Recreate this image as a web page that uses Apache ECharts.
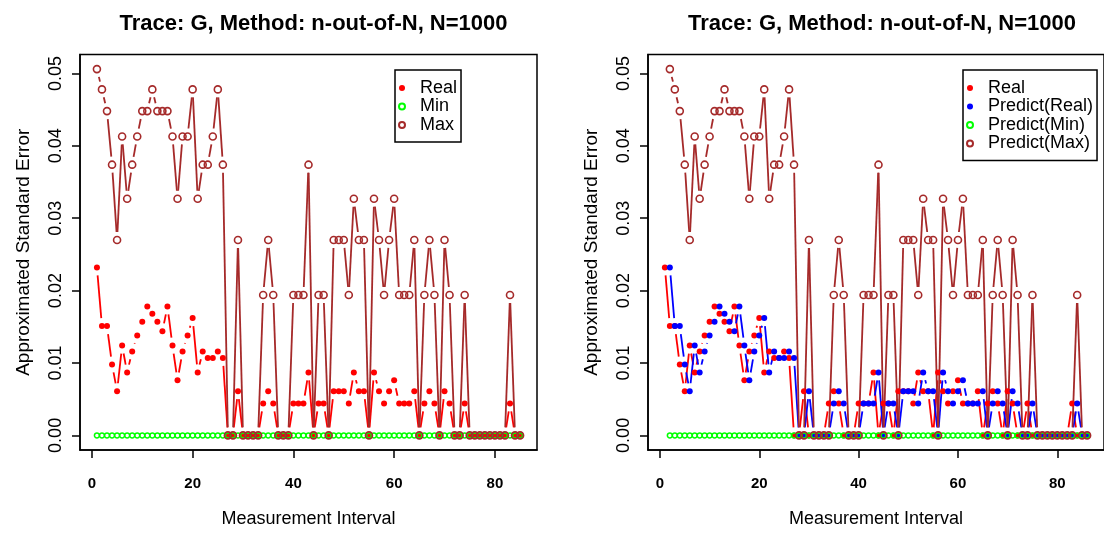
<!DOCTYPE html>
<html>
<head>
<meta charset="utf-8">
<script src="https://cdn.jsdelivr.net/npm/echarts@6/dist/echarts.min.js"></script>
<style>
  html, body { margin: 0; padding: 0; background: #fff; }
  #chart { width: 1104px; height: 533px; }
</style>
</head>
<body>
<div id="chart"></div>
<script>
// Measurement intervals (x positions of the observations)
const interval = [
  1, 2, 3, 4, 5, 6, 7, 8, 9, 10, 11, 12, 13, 14, 15, 16, 17, 18, 19, 20,
  21, 22, 23, 24, 25, 26, 27, 28, 29, 30, 31, 32, 33, 34, 35, 36, 37, 38, 39, 40,
  41, 42, 43, 44, 45, 46, 47, 48, 49, 50, 51, 52, 53, 54, 55, 56, 57, 58, 59, 60,
  61, 62, 63, 64, 65, 66, 67, 68, 69, 70, 71, 72, 73, 74, 75, 76, 77, 78, 79, 80,
  81, 82, 83, 84, 85
];
// predictions are issued one interval ahead
const predictInterval = [
  2, 3, 4, 5, 6, 7, 8, 9, 10, 11, 12, 13, 14, 15, 16, 17, 18, 19, 20, 21,
  22, 23, 24, 25, 26, 27, 28, 29, 30, 31, 32, 33, 34, 35, 36, 37, 38, 39, 40, 41,
  42, 43, 44, 45, 46, 47, 48, 49, 50, 51, 52, 53, 54, 55, 56, 57, 58, 59, 60, 61,
  62, 63, 64, 65, 66, 67, 68, 69, 70, 71, 72, 73, 74, 75, 76, 77, 78, 79, 80, 81,
  82, 83, 84, 85, 86
];

// approximated standard error per interval
const realSE = [
  0.0232, 0.0151, 0.0151, 0.0098, 0.0061, 0.0124, 0.0087, 0.0116, 0.0138, 0.0157,
  0.0178, 0.0168, 0.0157, 0.0144, 0.0178, 0.0124, 0.0076, 0.0116, 0.0138, 0.0162,
  0.0087, 0.0116, 0.0107, 0.0107, 0.0116, 0.0107, 0, 0, 0.0061, 0,
  0, 0, 0, 0.0044, 0.0061, 0.0044, 0, 0, 0, 0.0044,
  0.0044, 0.0044, 0.0087, 0, 0.0044, 0.0044, 0, 0.0061, 0.0061, 0.0061,
  0.0044, 0.0087, 0.0061, 0.0061, 0, 0.0087, 0.0061, 0.0044, 0.0061, 0.0076,
  0.0044, 0.0044, 0.0044, 0.0061, 0, 0.0044, 0.0061, 0.0044, 0, 0.0061,
  0.0044, 0, 0, 0.0044, 0, 0, 0, 0, 0, 0,
  0, 0, 0.0044, 0, 0
];
const minSE = [
  0, 0, 0, 0, 0, 0, 0, 0, 0, 0, 0, 0, 0, 0, 0, 0, 0, 0, 0, 0,
  0, 0, 0, 0, 0, 0, 0, 0, 0, 0, 0, 0, 0, 0, 0, 0, 0, 0, 0, 0,
  0, 0, 0, 0, 0, 0, 0, 0, 0, 0, 0, 0, 0, 0, 0, 0, 0, 0, 0, 0,
  0, 0, 0, 0, 0, 0, 0, 0, 0, 0, 0, 0, 0, 0, 0, 0, 0, 0, 0, 0,
  0, 0, 0, 0, 0
];
const maxSE = [
  0.0506, 0.0478, 0.0448, 0.0374, 0.0270, 0.0413, 0.0327, 0.0374, 0.0413, 0.0448,
  0.0448, 0.0478, 0.0448, 0.0448, 0.0448, 0.0413, 0.0327, 0.0413, 0.0413, 0.0478,
  0.0327, 0.0374, 0.0374, 0.0413, 0.0478, 0.0374, 0, 0, 0.0270, 0,
  0, 0, 0, 0.0194, 0.0270, 0.0194, 0, 0, 0, 0.0194,
  0.0194, 0.0194, 0.0374, 0, 0.0194, 0.0194, 0, 0.0270, 0.0270, 0.0270,
  0.0194, 0.0327, 0.0270, 0.0270, 0, 0.0327, 0.0270, 0.0194, 0.0270, 0.0327,
  0.0194, 0.0194, 0.0194, 0.0270, 0, 0.0194, 0.0270, 0.0194, 0, 0.0270,
  0.0194, 0, 0, 0.0194, 0, 0, 0, 0, 0, 0,
  0, 0, 0.0194, 0, 0
];

// one-step-ahead predictions (at predictInterval)
const predictRealSE = [
  0.0232, 0.0151, 0.0151, 0.0098, 0.0061, 0.0124, 0.0087, 0.0116, 0.0138, 0.0157,
  0.0178, 0.0168, 0.0157, 0.0144, 0.0178, 0.0124, 0.0076, 0.0116, 0.0138, 0.0162,
  0.0087, 0.0116, 0.0107, 0.0107, 0.0116, 0.0107, 0, 0, 0.0061, 0,
  0, 0, 0, 0.0044, 0.0061, 0.0044, 0, 0, 0, 0.0044,
  0.0044, 0.0044, 0.0087, 0, 0.0044, 0.0044, 0, 0.0061, 0.0061, 0.0061,
  0.0044, 0.0087, 0.0061, 0.0061, 0, 0.0087, 0.0061, 0.0044, 0.0061, 0.0076,
  0.0044, 0.0044, 0.0044, 0.0061, 0, 0.0044, 0.0061, 0.0044, 0, 0.0061,
  0.0044, 0, 0, 0.0044, 0, 0, 0, 0, 0, 0,
  0, 0, 0.0044, 0, 0
];
const predictMinSE = [
  0, 0, 0, 0, 0, 0, 0, 0, 0, 0, 0, 0, 0, 0, 0, 0, 0, 0, 0, 0,
  0, 0, 0, 0, 0, 0, 0, 0, 0, 0, 0, 0, 0, 0, 0, 0, 0, 0, 0, 0,
  0, 0, 0, 0, 0, 0, 0, 0, 0, 0, 0, 0, 0, 0, 0, 0, 0, 0, 0, 0,
  0, 0, 0, 0, 0, 0, 0, 0, 0, 0, 0, 0, 0, 0, 0, 0, 0, 0, 0, 0,
  0, 0, 0, 0, 0
];
const predictMaxSE = [
  0.0506, 0.0478, 0.0448, 0.0374, 0.0270, 0.0413, 0.0327, 0.0374, 0.0413, 0.0448,
  0.0448, 0.0478, 0.0448, 0.0448, 0.0448, 0.0413, 0.0327, 0.0413, 0.0413, 0.0478,
  0.0327, 0.0374, 0.0374, 0.0413, 0.0478, 0.0374, 0, 0, 0.0270, 0,
  0, 0, 0, 0.0194, 0.0270, 0.0194, 0, 0, 0, 0.0194,
  0.0194, 0.0194, 0.0374, 0, 0.0194, 0.0194, 0, 0.0270, 0.0270, 0.0270,
  0.0194, 0.0327, 0.0270, 0.0270, 0, 0.0327, 0.0270, 0.0194, 0.0270, 0.0327,
  0.0194, 0.0194, 0.0194, 0.0270, 0, 0.0194, 0.0270, 0.0194, 0, 0.0270,
  0.0194, 0, 0, 0.0194, 0, 0, 0, 0, 0, 0,
  0, 0, 0.0194, 0, 0
];

const xTicks = [0, 20, 40, 60, 80];
const yTicks = [0, 0.01, 0.02, 0.03, 0.04, 0.05];
const panelTitle = 'Trace: G, Method: n-out-of-N, N=1000';

const FONT = '"Liberation Sans", Arial, Helvetica, sans-serif';
const RED = '#FF0000', GREEN = '#00FF00', BROWN = '#A52A2A', BLUE = '#0000FF';
const GAP = 8;        // gap left around each point, like plot type "b"
const LINE_W = 1.8;

const chart = echarts.init(document.getElementById('chart'), null, { renderer: 'canvas' });

function toPoints(xs, ys) {
  return xs.map((x, k) => [x, ys[k]]);
}
function toSegments(xs, ys) {
  const out = [];
  for (let k = 0; k < xs.length - 1; k++) out.push([xs[k], ys[k], xs[k + 1], ys[k + 1]]);
  return out;
}

// connecting segments, shortened at both ends so they stop short of the symbols
function gappedLine(xs, ys, color, gi) {
  return {
    type: 'custom',
    xAxisIndex: gi, yAxisIndex: gi,
    silent: true,
    clip: true,
    encode: { x: [0, 2], y: [1, 3] },
    data: toSegments(xs, ys),
    renderItem(params, api) {
      const a = api.coord([api.value(0), api.value(1)]);
      const b = api.coord([api.value(2), api.value(3)]);
      const dx = b[0] - a[0], dy = b[1] - a[1];
      const d = Math.sqrt(dx * dx + dy * dy);
      if (d <= 2 * GAP) return null;
      const ux = dx / d, uy = dy / d;
      return {
        type: 'line',
        shape: { x1: a[0] + ux * GAP, y1: a[1] + uy * GAP, x2: b[0] - ux * GAP, y2: b[1] - uy * GAP },
        style: { stroke: color, lineWidth: LINE_W }
      };
    }
  };
}

function dots(name, xs, ys, color, gi, size) {
  return {
    name, type: 'scatter', xAxisIndex: gi, yAxisIndex: gi,
    symbol: 'circle', symbolSize: size, silent: true,
    itemStyle: { color: color, opacity: 1 },
    data: toPoints(xs, ys)
  };
}
function rings(name, xs, ys, color, gi, size, width) {
  return {
    name, type: 'scatter', xAxisIndex: gi, yAxisIndex: gi,
    symbol: 'circle', symbolSize: size, silent: true,
    itemStyle: { color: 'rgba(255,255,255,0)', borderColor: color, borderWidth: width, opacity: 1 },
    data: toPoints(xs, ys)
  };
}

function xAxisFor(gi, min, max) {
  return {
    gridIndex: gi, type: 'value', min, max,
    axisLine: { show: true, onZero: false, lineStyle: { color: '#000', width: 1.5 } },
    axisTick: { show: true, customValues: xTicks, length: 8, lineStyle: { color: '#000', width: 1.5 } },
    axisLabel: { customValues: xTicks, margin: 26, fontSize: 15, fontWeight: 'bold', color: '#000', fontFamily: FONT },
    splitLine: { show: false },
    name: 'Measurement Interval', nameLocation: 'middle', nameGap: 60,
    nameTextStyle: { fontSize: 18, color: '#000', fontFamily: FONT }
  };
}
function yAxisFor(gi) {
  return {
    gridIndex: gi, type: 'value', min: -0.00202, max: 0.05262,
    axisLine: { show: true, onZero: false, lineStyle: { color: '#000', width: 1.5 } },
    axisTick: { show: true, customValues: yTicks, length: 8, lineStyle: { color: '#000', width: 1.5 } },
    axisLabel: {
      customValues: yTicks, rotate: 90, margin: 15, fontSize: 18, color: '#000', fontFamily: FONT,
      formatter: v => v.toFixed(2)
    },
    splitLine: { show: false },
    name: 'Approximated Standard Error', nameLocation: 'middle', nameGap: 47,
    nameTextStyle: { fontSize: 19, color: '#000', fontFamily: FONT }
  };
}
function legendFor(left, names) {
  return {
    left, top: 70, orient: 'vertical', data: names, selectedMode: false,
    borderColor: '#000', borderWidth: 1.5, padding: [9, 4, 8, 3],
    itemGap: 0.5, itemWidth: 14, itemHeight: 6,
    textStyle: { fontSize: 18, lineHeight: 18, color: '#000', fontFamily: FONT, padding: [0, 0, 0, 6] }
  };
}

const option = {
  backgroundColor: '#fff',
  animation: false,
  title: [
    { text: panelTitle, left: 308.5, top: 8, textAlign: 'center',
      textStyle: { fontSize: 22, fontWeight: 'bold', color: '#000', fontFamily: FONT } },
    { text: panelTitle, left: 877, top: 8, textAlign: 'center',
      textStyle: { fontSize: 22, fontWeight: 'bold', color: '#000', fontFamily: FONT } }
  ],
  grid: [
    { left: 80, top: 54.5, width: 457, height: 405, show: true, borderColor: '#000', borderWidth: 1.5, backgroundColor: 'transparent' },
    { left: 648, top: 54.5, width: 458, height: 405, show: true, borderColor: '#000', borderWidth: 1.5, backgroundColor: 'transparent' }
  ],
  xAxis: [xAxisFor(0, -2.36, 88.36), xAxisFor(1, -2.4, 89.4)],
  yAxis: [yAxisFor(0), yAxisFor(1)],
  legend: [
    legendFor(395, ['Real', 'Min', 'Max']),
    legendFor(963, ['Real', 'Predict(Real)', 'Predict(Min)', 'Predict(Max)'])
  ],
  series: [
    // left panel: observed values with min / max bounds
    gappedLine(interval, realSE, RED, 0),
    dots('Real', interval, realSE, RED, 0, 6),
    gappedLine(interval, minSE, GREEN, 0),
    rings('Min', interval, minSE, GREEN, 0, 5, 1.5),
    gappedLine(interval, maxSE, BROWN, 0),
    rings('Max', interval, maxSE, BROWN, 0, 7, 1.6),
    // right panel: observed values and one-step predictions
    gappedLine(interval, realSE, RED, 1),
    dots('Real', interval, realSE, RED, 1, 6),
    gappedLine(predictInterval, predictRealSE, BLUE, 1),
    dots('Predict(Real)', predictInterval, predictRealSE, BLUE, 1, 6),
    gappedLine(predictInterval, predictMinSE, GREEN, 1),
    rings('Predict(Min)', predictInterval, predictMinSE, GREEN, 1, 5, 1.5),
    gappedLine(predictInterval, predictMaxSE, BROWN, 1),
    rings('Predict(Max)', predictInterval, predictMaxSE, BROWN, 1, 7, 1.6)
  ]
};

chart.setOption(option);
</script>
</body>
</html>
